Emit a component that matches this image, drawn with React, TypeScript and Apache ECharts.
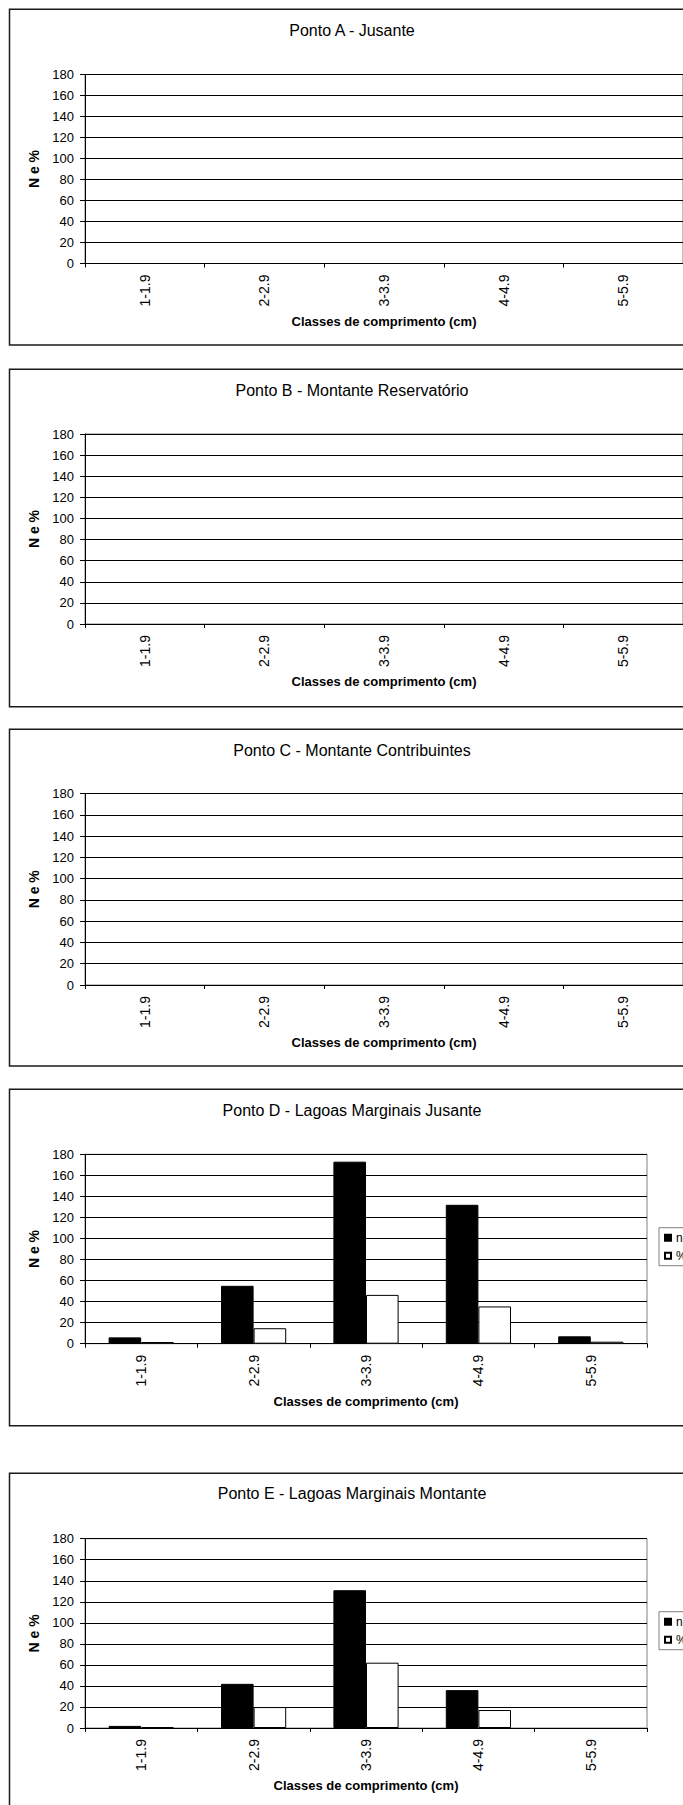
import React, { useEffect, useRef } from 'react';
import * as echarts from 'echarts';

// ---- data ----
const categories = ['1-1.9', '2-2.9', '3-3.9', '4-4.9', '5-5.9'];
const panelTitles = [
  'Ponto A - Jusante',
  'Ponto B - Montante Reservatório',
  'Ponto C - Montante Contribuintes',
  'Ponto D - Lagoas Marginais Jusante',
  'Ponto E - Lagoas Marginais Montante',
];
const seriesNames = ['n', '%'];
const pontoA_n = [0, 0, 0, 0, 0];
const pontoA_pct = [0, 0, 0, 0, 0];
const pontoB_n = [0, 0, 0, 0, 0];
const pontoB_pct = [0, 0, 0, 0, 0];
const pontoC_n = [0, 0, 0, 0, 0];
const pontoC_pct = [0, 0, 0, 0, 0];
const pontoD_n = [6, 55, 173, 132, 7];
const pontoD_pct = [1.6, 14.7, 46.4, 35.4, 1.9];
const pontoE_n = [2, 42, 131, 36, 0];
const pontoE_pct = [0.9, 19.9, 62.1, 17.1, 0];
const yMin = 0;
const yMax = 180;
const yStep = 20;
const xAxisTitle = 'Classes de comprimento (cm)';
const yAxisTitle = 'N e %';

const panelData = [
  [pontoA_n, pontoA_pct],
  [pontoB_n, pontoB_pct],
  [pontoC_n, pontoC_pct],
  [pontoD_n, pontoD_pct],
  [pontoE_n, pontoE_pct],
];

// ---- layout ----
const FONT = '"Liberation Sans", Arial, Helvetica, sans-serif';
const layout = [
  { box: 9.3, boxH: 335.7, title: 30.2, top: 74.5, h: 189, w: 598, legendTop: null as number | null },
  { box: 369.3, boxH: 337.4, title: 390.2, top: 434, h: 190, w: 598, legendTop: null },
  { box: 729.3, boxH: 336.7, title: 750.2, top: 793.5, h: 191.5, w: 598, legendTop: null },
  { box: 1089.3, boxH: 336.4, title: 1110.2, top: 1154.3, h: 189.4, w: 562, legendTop: 1227.7 },
  { box: 1473.3, boxH: 340, title: 1493.6, top: 1538.7, h: 189.3, w: 562, legendTop: 1611.7 },
];

// a zero count draws no bar
const toBars = (vals: number[]) => vals.map((v) => (v === 0 ? '-' : v));

export default function App() {
  const ref = useRef<HTMLDivElement>(null);
  useEffect(() => {
    if (!ref.current) return;
    const chart = echarts.init(ref.current, null, { renderer: 'svg' });

    const grids: any[] = [];
    const xAxes: any[] = [];
    const yAxes: any[] = [];
    const series: any[] = [];
    const legends: any[] = [];
    const graphics: any[] = [];

    layout.forEach((L, i) => {
      grids.push({
        left: 85,
        top: L.top,
        width: L.w,
        height: L.h,
        show: true,
        borderColor: '#808080',
        borderWidth: 1,
        backgroundColor: 'transparent',
      });
      xAxes.push({
        type: 'category',
        gridIndex: i,
        data: categories,
        boundaryGap: true,
        axisLine: { show: true, lineStyle: { color: '#000', width: 1 } },
        axisTick: { show: true, length: 4, alignWithLabel: false, lineStyle: { color: '#000' } },
        axisLabel: {
          rotate: 90,
          margin: 11,
          fontSize: 14,
          fontFamily: FONT,
          color: '#000',
          interval: 0,
        },
        name: xAxisTitle,
        nameLocation: 'middle',
        nameGap: 51,
        nameTextStyle: { fontSize: 13, fontWeight: 'bold', fontFamily: FONT, color: '#000' },
        splitLine: { show: false },
      });
      yAxes.push({
        type: 'value',
        gridIndex: i,
        min: yMin,
        max: yMax,
        interval: yStep,
        axisLine: { show: true, lineStyle: { color: '#000', width: 1 } },
        axisTick: { show: true, length: 5, lineStyle: { color: '#000' } },
        axisLabel: { margin: 11, fontSize: 13, fontFamily: FONT, color: '#000' },
        splitLine: { show: true, lineStyle: { color: '#000', width: 1 } },
        name: yAxisTitle,
        nameLocation: 'middle',
        nameRotate: 90,
        nameGap: 42,
        nameTextStyle: { fontSize: 14, fontWeight: 'bold', fontFamily: FONT, color: '#000' },
      });
      const [nVals, pVals] = panelData[i];
      series.push({
        type: 'bar',
        name: seriesNames[0],
        xAxisIndex: i,
        yAxisIndex: i,
        data: toBars(nVals),
        barGap: '0%',
        barCategoryGap: '42%',
        itemStyle: { color: '#000', borderColor: '#000', borderWidth: 1 },
        emphasis: { disabled: true },
      });
      series.push({
        type: 'bar',
        name: seriesNames[1],
        xAxisIndex: i,
        yAxisIndex: i,
        data: toBars(pVals),
        barGap: '0%',
        barCategoryGap: '42%',
        itemStyle: { color: '#fff', borderColor: '#000', borderWidth: 1 },
        emphasis: { disabled: true },
      });
      if (L.legendTop !== null) {
        legends.push({
          orient: 'vertical',
          left: 659,
          top: L.legendTop,
          data: seriesNames,
          icon: 'rect',
          itemWidth: 6,
          itemHeight: 6,
          itemGap: 6,
          padding: [4, 30, 4, 5],
          borderColor: '#808080',
          borderWidth: 1,
          backgroundColor: '#fff',
          selectedMode: false,
          textStyle: { fontSize: 12, fontFamily: FONT, color: '#000' },
        });
      }
      graphics.push({
        type: 'rect',
        silent: true,
        z: 100,
        shape: { x: 9.5, y: L.box, width: 686, height: L.boxH },
        style: { fill: 'none', stroke: '#1a1a1a', lineWidth: 1.5 },
      });
      graphics.push({
        type: 'text',
        silent: true,
        x: 352,
        y: L.title,
        style: {
          text: panelTitles[i],
          fill: '#000',
          fontSize: 16,
          fontFamily: FONT,
          align: 'center',
          verticalAlign: 'middle',
        },
      });
    });

    chart.setOption({
      animation: false,
      backgroundColor: '#fff',
      grid: grids,
      xAxis: xAxes,
      yAxis: yAxes,
      series,
      legend: legends,
      graphic: graphics,
    });
    return () => chart.dispose();
  }, []);

  return (
    <div
      ref={ref}
      style={{ position: 'absolute', left: 0, top: 0, width: 683, height: 1805 }}
    />
  );
}
